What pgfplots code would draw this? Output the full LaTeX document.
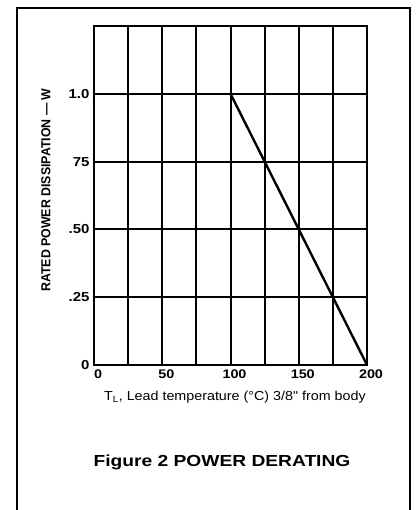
\documentclass[border=0pt]{standalone}
\usepackage{fontspec}
\setmainfont{Liberation Sans}
\newfontfamily\tickfont[FakeStretch=1.15]{Liberation Sans Bold}
\newfontfamily\ylabfont[FakeStretch=0.95]{Liberation Sans Bold}
\newfontfamily\xlabfont[FakeStretch=1.1]{Liberation Sans}
\newfontfamily\capfont[FakeStretch=1.2]{Liberation Sans Bold}
\usepackage{pgfplots}
\pgfplotsset{compat=1.18}
\begin{document}
\begin{tikzpicture}[x=1pt,y=1pt]
\begin{axis}[
  at={(94pt,-365pt)}, anchor=south west,
  scale only axis, width=273pt, height=339pt,
  xmin=0, xmax=200, ymin=0, ymax=1.25,
  xtick={0,25,...,200},
  xticklabels={0,,50,,100,,150,,200},
  ytick={0,0.25,0.5,0.75,1},
  yticklabels={0,.25,.50,75,1.0},
  major tick length=0pt,
  grid=major,
  major grid style={line width=2pt, black},
  axis line style={line width=2.3pt, black},
  /pgf/number format/assume math mode=true,
  xticklabel style={font=\tickfont\fontsize{12.5}{12.5}\selectfont, yshift=-1pt, xshift=4pt},
  yticklabel style={font=\tickfont\fontsize{13}{13}\selectfont, xshift=-1pt},
  xlabel={T\textsubscript{L}, Lead temperature (°C) 3/8" from body},
  xlabel style={font=\xlabfont\fontsize{13}{13}\selectfont, at={(axis description cs:0.516,-0.094)}, anchor=center},
  ylabel={RATED POWER DISSIPATION — W},
  ylabel style={font=\ylabfont\fontsize{13}{13}\selectfont, at={(axis description cs:-0.176,0.516)}, anchor=center, rotate=0},
]
\addplot[black, line width=2.4pt] coordinates {(100,1.0) (200,0)};
\end{axis}
\draw[line width=1.8pt] (17,-520) -- (17,-8) -- (410,-8) -- (410,-520);
\node[font=\capfont\fontsize{16}{16}\selectfont] at (222,-462) {Figure 2 POWER DERATING};
\pgfresetboundingbox
\path[use as bounding box] (0,0) rectangle (415,-510);
\end{tikzpicture}
\end{document}
